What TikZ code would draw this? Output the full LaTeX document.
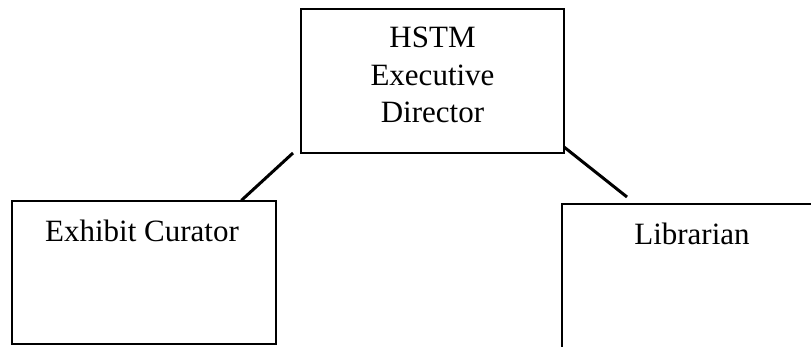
\documentclass[tikz,border=0pt]{standalone}
\usepackage{fontspec}
\setmainfont{Liberation Serif}
\begin{document}
\begin{tikzpicture}[x=1pt,y=-1pt,
  box/.style={draw=black, line width=1.2pt, rectangle, inner sep=0pt},
  lbl/.style={font=\fontsize{31}{37.5}\selectfont, inner sep=0pt, align=center},
  conn/.style={draw=black, line width=3pt}]
\useasboundingbox (0,0) rectangle (811,347);
\fill[white] (0,0) rectangle (811,347);
\node[box, minimum width=263pt, minimum height=144pt] (dir) at (432.5,81) {};
\node[box, minimum width=264pt, minimum height=143pt] (cur) at (144,272.5) {};
\node[box, minimum width=260pt, minimum height=150pt] (lib) at (692,279) {};
\node[lbl, anchor=base] (dirt) at (432.5,123) {HSTM\\Executive\\Director};
\node[lbl, anchor=base] (curt) at (142,242) {Exhibit Curator};
\node[lbl, anchor=base] (libt) at (692,245) {Librarian};
\coordinate (d1) at (293,153);
\coordinate (d2) at (564,147);
\coordinate (l1) at (627,197);
\path (cur.north west) ++(230,0) coordinate (c1);
\draw[conn] (c1) -- (d1);
\draw[conn] (d2) -- (l1);
\end{tikzpicture}
\end{document}
